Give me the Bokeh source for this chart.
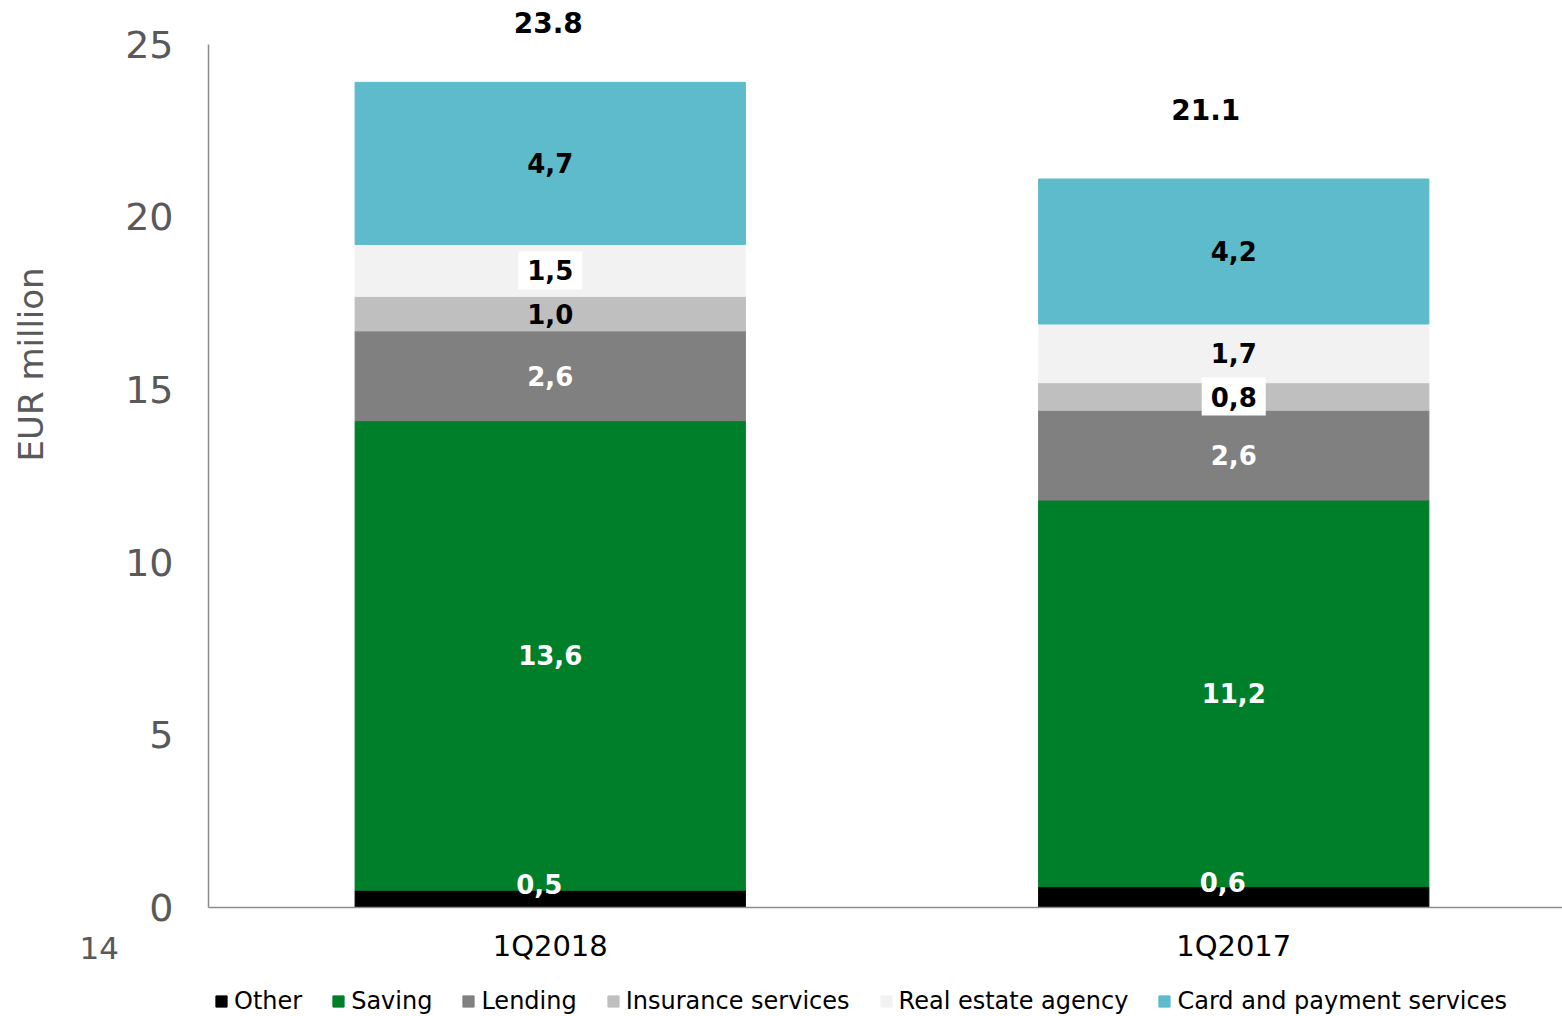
import math
from bokeh.plotting import figure
from bokeh.models import Range1d, FixedTicker, Legend, LegendItem, ColumnDataSource
from bokeh.core.properties import value
from bokeh.embed import file_html
from bokeh.resources import INLINE

# ---------------- data ----------------
categories = ["1Q2018", "1Q2017"]
series = ["Other", "Saving", "Lending", "Insurance services",
          "Real estate agency", "Card and payment services"]
other = [0.5, 0.6]
saving = [13.6, 11.2]
lending = [2.6, 2.6]
insurance = [1.0, 0.8]
real_estate = [1.5, 1.7]
card = [4.7, 4.2]
totals = [23.8, 21.1]
y_ticks = [0, 5, 10, 15, 20, 25]
y_title = "EUR million"
stray_label = "14"

# ---------------- styles ----------------
colors = ["#000000", "#007F2B", "#808080", "#BFBFBF", "#F2F2F2", "#5DBBCB"]
label_colors = [["white", "white"], ["white", "white"], ["white", "white"],
                ["black", "black"], ["black", "black"], ["black", "black"]]
label_boxed = [[False, False], [False, False], [False, False],
               [False, True], [True, False], [False, False]]
label_dx = [-11, 0, 0, 0, 0, 0]
label_dy = [-15, 0, 0, 0, 0, 0]
total_pad = [1.84, 2.02]
total_dx = [-2, -28]
stray_pos = (-0.160, -1.16)
y_title_pos = (-0.260, 15.73)
FONT = "DejaVu Sans"
GREY = "#595959"

values = [other, saving, lending, insurance, real_estate, card]
xs = [i + 0.5 for i in range(len(categories))]

data = {"x": xs}
for s, v in zip(series, values):
    data[s] = v
source = ColumnDataSource(data)

x_end = 1.981
p = figure(width=1562, height=1016, output_backend="svg", toolbar_location=None,
           x_range=Range1d(-0.3043, x_end), y_range=Range1d(-3.158, 26.27),
           min_border_left=0, min_border_top=0, min_border_bottom=0,
           min_border_right=0)
p.outline_line_color = None
p.grid.visible = False
p.background_fill_color = "white"
p.border_fill_color = "white"

renderers = p.vbar_stack(series, x="x", width=0.571, color=colors, source=source)

# segment labels
plain = dict(x=[], y=[], text=[], color=[], dx=[], dy=[])
boxed = dict(x=[], y=[], text=[], color=[], dx=[], dy=[])
for ci in range(len(categories)):
    bottom = 0.0
    for si in range(len(series)):
        v = values[si][ci]
        d = boxed if label_boxed[si][ci] else plain
        d["x"].append(xs[ci])
        d["y"].append(bottom + v / 2)
        d["text"].append(f"{v:.1f}".replace(".", ","))
        d["color"].append(label_colors[si][ci])
        d["dx"].append(label_dx[si])
        d["dy"].append(label_dy[si])
        bottom += v

common = dict(x="x", y="y", text="text", text_color="color",
              x_offset="dx", y_offset="dy",
              text_font=value(FONT), text_font_style="bold",
              text_font_size="26px", text_align="center",
              text_baseline="middle")
p.text(source=ColumnDataSource(plain), **common)
p.text(source=ColumnDataSource(boxed), background_fill_color="white",
       padding=9, **common)

# totals
tot_src = ColumnDataSource(dict(
    x=xs, y=[t + d for t, d in zip(totals, total_pad)],
    text=[f"{t:.1f}" for t in totals], dx=total_dx))
p.text(x="x", y="y", text="text", x_offset="dx", source=tot_src,
       text_font=value(FONT), text_font_style="bold", text_font_size="28px",
       text_color="black", text_align="center", text_baseline="middle")

# stray label
p.text(x=[stray_pos[0]], y=[stray_pos[1]], text=[stray_label],
       text_font=value(FONT), text_font_size="31px", text_color=GREY,
       text_align="center", text_baseline="middle")

# y axis title (offset upward like the reference)
p.text(x=[y_title_pos[0]], y=[y_title_pos[1]], text=[y_title], angle=math.pi / 2,
       text_font=value(FONT), text_font_size="34px", text_color=GREY,
       text_align="center", text_baseline="middle")

# axes
p.yaxis.fixed_location = 0
p.yaxis.bounds = (0, 25)
p.yaxis.ticker = FixedTicker(ticks=y_ticks)
p.yaxis.major_tick_line_color = None
p.yaxis.major_tick_out = 0
p.yaxis.major_tick_in = 0
p.yaxis.minor_tick_line_color = None
p.yaxis.axis_line_color = "#8C8C8C"
p.yaxis.axis_line_width = 1.5
p.yaxis.major_label_text_font = FONT
p.yaxis.major_label_text_font_size = "38px"
p.yaxis.major_label_text_color = GREY
p.yaxis.major_label_standoff = 35

p.xaxis.fixed_location = 0
p.xaxis.bounds = (0, x_end)
p.xaxis.ticker = FixedTicker(ticks=xs)
p.xaxis.major_label_overrides = {x: c for x, c in zip(xs, categories)}
p.xaxis.major_tick_line_color = None
p.xaxis.major_tick_out = 0
p.xaxis.major_tick_in = 0
p.xaxis.minor_tick_line_color = None
p.xaxis.axis_line_color = "#8C8C8C"
p.xaxis.axis_line_width = 1.5
p.xaxis.major_label_text_font = FONT
p.xaxis.major_label_text_font_size = "29px"
p.xaxis.major_label_text_color = "#000000"
p.xaxis.major_label_standoff = 22

legend = Legend(items=[LegendItem(label=s, renderers=[r]) for s, r in zip(series, renderers)],
                orientation="horizontal", location=(214, 1),
                label_text_font=FONT, label_text_font_size="24px",
                label_text_color="#000000", glyph_width=14, glyph_height=14,
                label_standoff=6, spacing=29, padding=0, margin=0,
                border_line_color=None, background_fill_alpha=0)
p.add_layout(legend, "center")

open("out.html", "w").write(file_html(p, INLINE))
